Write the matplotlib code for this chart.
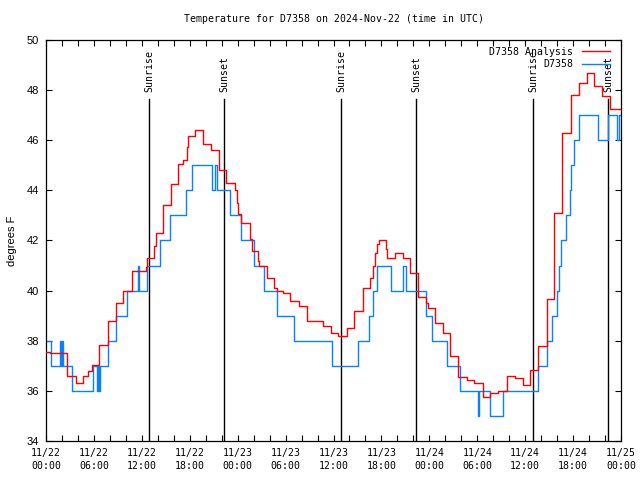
import matplotlib
matplotlib.use("Agg")
import matplotlib.pyplot as plt
from matplotlib.ticker import MultipleLocator

# hours since 11/22 00:00 UTC, step changes
blue_h = [0, 0.58, 1.75, 1.88, 2.0, 2.09, 3.21, 5.84, 6.34, 6.47, 6.6, 6.76,
          7.72, 8.76, 10.18, 11.48, 11.69, 12.69, 14.27, 15.53, 17.49, 18.24,
          20.8, 21.2, 21.35, 23.1, 24.42, 26.04, 27.34, 28.92, 31.09, 35.77,
          39.11, 40.48, 40.9, 41.4, 43.2, 44.66, 45.1, 47.58, 48.37, 50.25,
          51.84, 54.13, 54.26, 55.59, 57.18, 61.65, 62.69, 63.4, 63.94, 64.19,
          64.48, 65.07, 65.61, 65.73, 66.11, 66.74, 69.07, 70.41, 71.45, 71.7, 72]
blue_v = [38, 37, 38, 37, 38, 37, 36, 37, 36, 37, 36, 37,
          38, 39, 40, 41, 40, 41, 42, 43, 44, 45,
          44, 45, 44, 43, 42, 41, 40, 39, 38, 37,
          38, 39, 40, 41, 40, 41, 40, 39, 38, 37,
          36, 35, 36, 35, 36, 37, 38, 39, 40, 41,
          42, 43, 44, 45, 46, 47, 46, 47, 46, 47, 47]

red_h = [0, 0.5, 2.67, 3.76, 4.67, 5.3, 5.72, 6.68, 7.72, 8.76, 9.68, 10.73,
         12.52, 12.69, 13.56, 13.73, 14.69, 15.69, 16.57, 17.11, 17.61, 17.74,
         18.7, 19.62, 19.7, 20.64, 21.62, 22.54, 23.62, 23.87, 24.0, 24.37,
         25.55, 25.75, 26.59, 26.71, 27.63, 28.55, 28.88, 29.63, 30.55, 31.72,
         32.64, 34.64, 35.68, 36.6, 37.65, 38.61, 39.65, 40.57, 40.9, 41.23,
         41.49, 41.69, 42.57, 42.73, 43.7, 44.66, 45.62, 46.62, 47.58, 47.87,
         48.66, 49.67, 50.58, 51.63, 52.67, 53.59, 54.67, 55.59, 56.55, 57.68,
         58.72, 59.68, 60.6, 61.65, 62.69, 63.61, 64.65, 65.69, 66.74, 67.7,
         68.66, 69.65, 70.6, 72]
red_v = [37.55, 37.5, 36.6, 36.3, 36.6, 36.8, 37.05, 37.85, 38.8, 39.5, 40.0, 40.8,
         40.95, 41.3, 41.8, 42.3, 43.4, 44.25, 45.05, 45.2, 45.75, 46.15,
         46.4, 46.15, 45.85, 45.6, 44.8, 44.3, 44.0, 43.5, 43.05, 42.7,
         42.05, 41.6, 41.2, 41.0, 40.5, 40.1, 40.0, 39.9, 39.6, 39.4,
         38.8, 38.6, 38.3, 38.2, 38.5, 39.2, 40.1, 40.5, 41.0, 41.5,
         41.85, 42.0, 41.65, 41.3, 41.5, 41.3, 40.7, 39.75, 39.5, 39.3,
         38.7, 38.3, 37.4, 36.55, 36.45, 36.3, 35.75, 35.9, 36.0, 36.6,
         36.5, 36.25, 36.85, 37.8, 39.65, 43.1, 46.27, 47.8, 48.3, 48.7,
         48.15, 47.75, 47.25, 47.25]

sunrise_h = [12.9, 36.96, 61.0]
sunset_h = [22.3, 46.35, 70.4]

tick_h = list(range(0, 73, 6))
tick_labels = ["11/22\n00:00", "11/22\n06:00", "11/22\n12:00", "11/22\n18:00",
               "11/23\n00:00", "11/23\n06:00", "11/23\n12:00", "11/23\n18:00",
               "11/24\n00:00", "11/24\n06:00", "11/24\n12:00", "11/24\n18:00",
               "11/25\n00:00"]

mono = "DejaVu Sans Mono"
sans = "Liberation Sans"
fs = 7.1

fig = plt.figure(figsize=(6.4, 4.8), dpi=100)
ax = fig.add_axes([46 / 640, 1 - 441 / 480, 575 / 640, 401 / 480])

# sunrise / sunset markers
for h in sunrise_h + sunset_h:
    ax.plot([h, h], [34, 47.65], color="black", lw=1.0, zorder=1)
for h in sunrise_h:
    ax.text(h, 47.92, "Sunrise", rotation=90, ha="center", va="bottom",
            family=mono, fontsize=fs)
for h in sunset_h:
    ax.text(h, 47.92, "Sunset", rotation=90, ha="center", va="bottom",
            family=mono, fontsize=fs)

ax.step(red_h, red_v, where="post", color="#ff0000", lw=1.0, label="D7358 Analysis", zorder=3)
ax.step(blue_h, blue_v, where="post", color="#0a80ff", lw=1.0, label="D7358", zorder=2)

ax.set_xlim(0, 72)
ax.set_ylim(34, 50)
ax.set_xticks(tick_h)
ax.set_xticklabels(tick_labels, family=mono, fontsize=fs, linespacing=1.4)
ax.xaxis.set_minor_locator(MultipleLocator(2))
ax.yaxis.set_major_locator(MultipleLocator(2))
for lab in ax.get_yticklabels():
    lab.set_family(sans)
    lab.set_fontsize(8)
ax.tick_params(which="both", direction="in", top=True, right=True,
               length=4, width=0.8)
ax.tick_params(axis="x", pad=5)
ax.tick_params(axis="y", pad=5)
for s in ax.spines.values():
    s.set_linewidth(0.9)

ax.set_ylabel("degrees F", family=sans, fontsize=8, labelpad=7)

fig.text((46 + 621) / 2 / 640, 1 - 19 / 480,
         "Temperature for D7358 on 2024-Nov-22 (time in UTC)",
         ha="center", va="center", family=mono, fontsize=fs)

ax.legend(loc="upper right", bbox_to_anchor=(0.9905, 0.9975),
          markerfirst=False, frameon=False,
          prop={"family": mono, "size": fs}, handlelength=2.85,
          handletextpad=0.85, labelspacing=0.25, borderaxespad=0.4,
          borderpad=0.2)

fig.savefig("out.png", dpi=100)
